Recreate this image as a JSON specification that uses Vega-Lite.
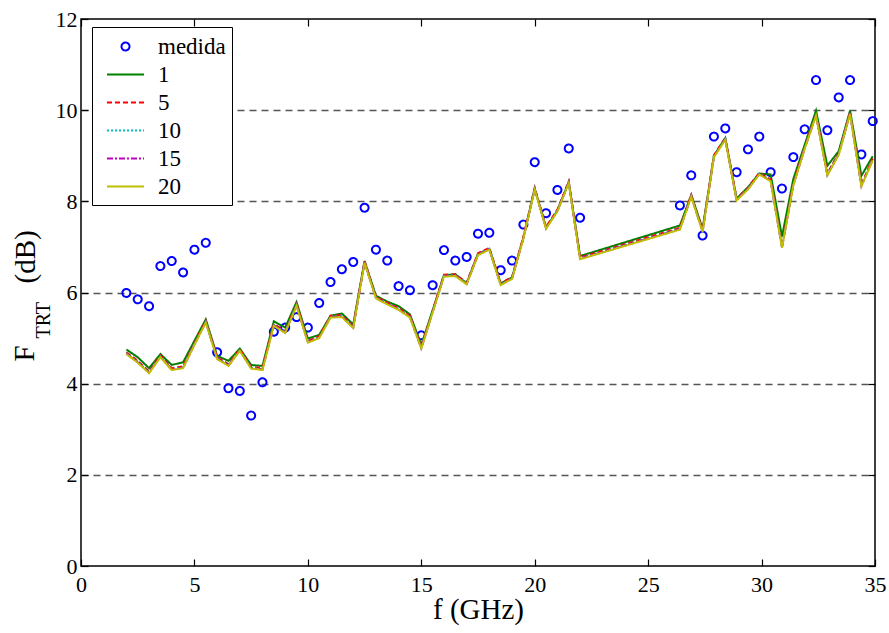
{
  "$schema": "https://vega.github.io/schema/vega-lite/v6.json",
  "width": 794,
  "height": 547,
  "autosize": "none",
  "padding": {"left": 81, "top": 19, "right": 14, "bottom": 67},
  "background": "white",
  "config": {
    "view": {"stroke": "black", "strokeWidth": 1.5},
    "font": "Liberation Serif",
    "axis": {
      "labelFont": "Liberation Serif",
      "titleFont": "Liberation Serif",
      "labelFontSize": 22,
      "labelColor": "black",
      "titleColor": "black",
      "titleFontWeight": "normal",
      "domain": false,
      "tickColor": "black",
      "tickWidth": 1.2,
      "grid": false
    },
    "legend": {
      "labelFont": "Liberation Serif",
      "labelFontSize": 23,
      "labelColor": "black",
      "symbolSize": 625,
      "symbolStrokeWidth": 2,
      "symbolOpacity": 1
    }
  },
  "data": {
    "values": [
      {"f": 2, "medida": 5.99, "1": 4.75, "5": 4.69, "10": 4.67, "15": 4.66, "20": 4.65},
      {"f": 2.5, "medida": 5.85, "1": 4.58, "5": 4.50, "10": 4.48, "15": 4.47, "20": 4.46},
      {"f": 3, "medida": 5.70, "1": 4.34, "5": 4.27, "10": 4.25, "15": 4.24, "20": 4.23},
      {"f": 3.5, "medida": 6.58, "1": 4.65, "5": 4.62, "10": 4.60, "15": 4.59, "20": 4.58},
      {"f": 4, "medida": 6.69, "1": 4.41, "5": 4.34, "10": 4.32, "15": 4.31, "20": 4.30},
      {"f": 4.5, "medida": 6.44, "1": 4.47, "5": 4.38, "10": 4.36, "15": 4.35, "20": 4.34},
      {"f": 5, "medida": 6.94, "1": 4.94, "5": 4.89, "10": 4.87, "15": 4.86, "20": 4.85},
      {"f": 5.5, "medida": 7.09, "1": 5.41, "5": 5.38, "10": 5.36, "15": 5.35, "20": 5.34},
      {"f": 6, "medida": 4.69, "1": 4.61, "5": 4.58, "10": 4.56, "15": 4.55, "20": 4.54},
      {"f": 6.5, "medida": 3.90, "1": 4.50, "5": 4.43, "10": 4.41, "15": 4.40, "20": 4.39},
      {"f": 7, "medida": 3.84, "1": 4.77, "5": 4.76, "10": 4.74, "15": 4.73, "20": 4.72},
      {"f": 7.5, "medida": 3.30, "1": 4.41, "5": 4.37, "10": 4.35, "15": 4.34, "20": 4.33},
      {"f": 8, "medida": 4.03, "1": 4.39, "5": 4.34, "10": 4.32, "15": 4.31, "20": 4.30},
      {"f": 8.5, "medida": 5.14, "1": 5.37, "5": 5.31, "10": 5.29, "15": 5.28, "20": 5.27},
      {"f": 9, "medida": 5.23, "1": 5.23, "5": 5.15, "10": 5.13, "15": 5.12, "20": 5.11},
      {"f": 9.5, "medida": 5.46, "1": 5.79, "5": 5.75, "10": 5.73, "15": 5.72, "20": 5.71},
      {"f": 10, "medida": 5.23, "1": 4.99, "5": 4.94, "10": 4.92, "15": 4.91, "20": 4.90},
      {"f": 10.5, "medida": 5.77, "1": 5.07, "5": 5.04, "10": 5.02, "15": 5.01, "20": 5.00},
      {"f": 11, "medida": 6.23, "1": 5.49, "5": 5.49, "10": 5.47, "15": 5.46, "20": 5.45},
      {"f": 11.5, "medida": 6.51, "1": 5.54, "5": 5.50, "10": 5.48, "15": 5.47, "20": 5.46},
      {"f": 12, "medida": 6.67, "1": 5.30, "5": 5.26, "10": 5.24, "15": 5.23, "20": 5.22},
      {"f": 12.5, "medida": 7.86, "1": 6.69, "5": 6.69, "10": 6.67, "15": 6.66, "20": 6.65},
      {"f": 13, "medida": 6.94, "1": 5.93, "5": 5.91, "10": 5.89, "15": 5.88, "20": 5.87},
      {"f": 13.5, "medida": 6.70, "1": 5.80, "5": 5.78, "10": 5.76, "15": 5.75, "20": 5.74},
      {"f": 14, "medida": 6.14, "1": 5.70, "5": 5.66, "10": 5.64, "15": 5.63, "20": 5.62},
      {"f": 14.5, "medida": 6.05, "1": 5.52, "5": 5.49, "10": 5.47, "15": 5.46, "20": 5.45},
      {"f": 15, "medida": 5.06, "1": 4.85, "5": 4.81, "10": 4.79, "15": 4.78, "20": 4.77},
      {"f": 15.5, "medida": 6.16, "1": 5.61, "5": 5.60, "10": 5.58, "15": 5.57, "20": 5.56},
      {"f": 16, "medida": 6.93, "1": 6.38, "5": 6.39, "10": 6.37, "15": 6.36, "20": 6.35},
      {"f": 16.5, "medida": 6.70, "1": 6.40, "5": 6.40, "10": 6.38, "15": 6.37, "20": 6.36},
      {"f": 17, "medida": 6.78, "1": 6.20, "5": 6.22, "10": 6.20, "15": 6.19, "20": 6.18},
      {"f": 17.5, "medida": 7.29, "1": 6.85, "5": 6.86, "10": 6.84, "15": 6.83, "20": 6.82},
      {"f": 18, "medida": 7.31, "1": 6.96, "5": 6.98, "10": 6.96, "15": 6.95, "20": 6.94},
      {"f": 18.5, "medida": 6.49, "1": 6.20, "5": 6.20, "10": 6.18, "15": 6.17, "20": 6.16},
      {"f": 19, "medida": 6.70, "1": 6.33, "5": 6.34, "10": 6.32, "15": 6.31, "20": 6.30},
      {"f": 19.5, "medida": 7.49, "1": 7.20, "5": 7.22, "10": 7.20, "15": 7.19, "20": 7.18},
      {"f": 20, "medida": 8.86, "1": 8.28, "5": 8.30, "10": 8.28, "15": 8.27, "20": 8.26},
      {"f": 20.5, "medida": 7.74, "1": 7.42, "5": 7.44, "10": 7.42, "15": 7.41, "20": 7.40},
      {"f": 21, "medida": 8.25, "1": 7.80, "5": 7.82, "10": 7.80, "15": 7.79, "20": 7.78},
      {"f": 21.5, "medida": 9.16, "1": 8.42, "5": 8.44, "10": 8.42, "15": 8.41, "20": 8.40},
      {"f": 22, "medida": 7.64, "1": 6.80, "5": 6.77, "10": 6.75, "15": 6.74, "20": 6.73},
      {"f": 26.4, "medida": 7.91, "1": 7.47, "5": 7.42, "10": 7.40, "15": 7.39, "20": 7.38},
      {"f": 26.9, "medida": 8.57, "1": 8.14, "5": 8.14, "10": 8.12, "15": 8.11, "20": 8.10},
      {"f": 27.4, "medida": 7.25, "1": 7.40, "5": 7.37, "10": 7.35, "15": 7.34, "20": 7.33},
      {"f": 27.9, "medida": 9.42, "1": 9.00, "5": 9.01, "10": 8.99, "15": 8.98, "20": 8.97},
      {"f": 28.4, "medida": 9.60, "1": 9.39, "5": 9.39, "10": 9.37, "15": 9.36, "20": 9.35},
      {"f": 28.9, "medida": 8.64, "1": 8.06, "5": 8.06, "10": 8.04, "15": 8.03, "20": 8.02},
      {"f": 29.4, "medida": 9.14, "1": 8.31, "5": 8.30, "10": 8.28, "15": 8.27, "20": 8.26},
      {"f": 29.9, "medida": 9.42, "1": 8.61, "5": 8.63, "10": 8.61, "15": 8.60, "20": 8.59},
      {"f": 30.4, "medida": 8.64, "1": 8.59, "5": 8.48, "10": 8.46, "15": 8.45, "20": 8.44},
      {"f": 30.9, "medida": 8.28, "1": 7.23, "5": 7.02, "10": 7.00, "15": 6.99, "20": 6.98},
      {"f": 31.4, "medida": 8.97, "1": 8.49, "5": 8.39, "10": 8.37, "15": 8.36, "20": 8.35},
      {"f": 31.9, "medida": 9.58, "1": 9.24, "5": 9.19, "10": 9.17, "15": 9.16, "20": 9.15},
      {"f": 32.4, "medida": 10.66, "1": 9.99, "5": 9.92, "10": 9.90, "15": 9.89, "20": 9.88},
      {"f": 32.9, "medida": 9.56, "1": 8.78, "5": 8.61, "10": 8.59, "15": 8.58, "20": 8.57},
      {"f": 33.4, "medida": 10.28, "1": 9.10, "5": 9.06, "10": 9.04, "15": 9.03, "20": 9.02},
      {"f": 33.9, "medida": 10.66, "1": 9.99, "5": 9.96, "10": 9.94, "15": 9.93, "20": 9.92},
      {"f": 34.4, "medida": 9.03, "1": 8.56, "5": 8.37, "10": 8.35, "15": 8.34, "20": 8.33},
      {"f": 34.9, "medida": 9.76, "1": 8.99, "5": 8.94, "10": 8.92, "15": 8.91, "20": 8.90}
    ]
  },
  "resolve": {"axis": {"x": "independent", "y": "independent"}},
  "layer": [
    {
      "transform": [{"fold": ["medida"], "as": ["series", "value"]}],
      "mark": {"type": "point", "filled": false, "strokeWidth": 2, "size": 625, "opacity": 1, "clip": false},
      "encoding": {
        "x": {
          "field": "f", "type": "quantitative",
          "scale": {"domain": [0, 35], "nice": false, "zero": false},
          "axis": {"orient": "bottom", "values": [0, 5, 10, 15, 20, 25, 30, 35], "ticks": false, "labelPadding": 8, "labelFlush": false, "title": "f (GHz)", "titleFontSize": 29, "titlePadding": 0}
        },
        "y": {
          "field": "value", "type": "quantitative",
          "scale": {"domain": [0, 12], "nice": false},
          "axis": {
            "orient": "left", "values": [0, 2, 4, 6, 8, 10, 12], "ticks": false, "labelPadding": 4, "labelFlush": false,
            "grid": true, "gridDash": [7, 5], "gridColor": "#555555", "gridWidth": 1.3,
            "gridOpacity": {"condition": {"test": "datum.value == 0 || datum.value == 12", "value": 0}, "value": 1},
            "title": "F", "titleFontSize": 29, "titleX": -48, "titleY": 342, "titleAlign": "left", "titleBaseline": "alphabetic", "titleAngle": -90
          }
        },
        "color": {
          "field": "series", "type": "nominal",
          "scale": {"domain": ["medida", "1", "5", "10", "15", "20"], "range": ["#0000ff", "#008000", "#ff0000", "#00bfbf", "#bf00bf", "#bfbf00"]},
          "legend": {
            "orient": "none", "legendX": 11, "legendY": 8, "title": null,
            "strokeColor": "black", "fillColor": "white", "padding": 6,
            "symbolOffset": 14, "labelOffset": 19, "rowPadding": 2,
            "labelExpr": "datum.label == '1' || datum.label == '5' ? '\u00a0' + datum.label : datum.label"
          }
        },
        "shape": {
          "field": "series", "type": "nominal",
          "scale": {"domain": ["medida", "1", "5", "10", "15", "20"], "range": ["M0.32,0A0.32,0.32,0,1,1,-0.32,0A0.32,0.32,0,1,1,0.32,0Z", "M-1.48,0H1.48", "M-1.48,0H1.48", "M-1.48,0H1.48", "M-1.48,0H1.48", "M-1.48,0H1.48"]}
        },
        "strokeDash": {
          "field": "series", "type": "nominal",
          "scale": {"domain": ["medida", "1", "5", "10", "15", "20"], "range": [[1, 0], [1, 0], [5, 3], [2, 2], [6, 2, 2, 2], [1, 0]]}
        }
      }
    },
    {
      "transform": [{"fold": ["1", "5", "10", "15", "20"], "as": ["series", "value"]}],
      "mark": {"type": "line", "strokeWidth": 2},
      "encoding": {
        "x": {
          "field": "f", "type": "quantitative",
          "axis": {"orient": "top", "values": [0, 5, 10, 15, 20, 25, 30, 35], "labels": false, "ticks": true, "tickSize": 7, "offset": -7, "title": null}
        },
        "y": {
          "field": "value", "type": "quantitative",
          "axis": {"orient": "right", "values": [0, 2, 4, 6, 8, 10, 12], "labels": false, "ticks": true, "tickSize": 7, "offset": -7, "title": null}
        },
        "color": {"field": "series", "type": "nominal"},
        "strokeDash": {"field": "series", "type": "nominal"}
      }
    },
    {
      "mark": {"type": "point", "opacity": 0},
      "encoding": {
        "x": {
          "field": "f", "type": "quantitative",
          "axis": {"orient": "bottom", "values": [0, 5, 10, 15, 20, 25, 30, 35], "labels": false, "ticks": true, "tickSize": 7, "offset": -7, "title": null}
        },
        "y": {
          "field": "medida", "type": "quantitative",
          "axis": {"orient": "left", "values": [0, 2, 4, 6, 8, 10, 12], "labels": false, "ticks": true, "tickSize": 7, "offset": -7, "title": null}
        }
      }
    },
    {
      "mark": {"type": "point", "opacity": 0},
      "encoding": {
        "x": {"field": "f", "type": "quantitative", "axis": null},
        "y": {
          "field": "medida", "type": "quantitative",
          "axis": {
            "orient": "left", "labels": false, "ticks": false,
            "title": "TRT", "titleFontSize": 20, "titleX": -32, "titleY": 319, "titleAlign": "left", "titleBaseline": "alphabetic", "titleAngle": -90
          }
        }
      }
    },
    {
      "mark": {"type": "point", "opacity": 0},
      "encoding": {
        "x": {"field": "f", "type": "quantitative", "axis": null},
        "y": {
          "field": "medida", "type": "quantitative",
          "axis": {
            "orient": "left", "labels": false, "ticks": false,
            "title": "(dB)", "titleFontSize": 29, "titleX": -47, "titleY": 264, "titleAlign": "left", "titleBaseline": "alphabetic", "titleAngle": -90
          }
        }
      }
    }
  ]
}
